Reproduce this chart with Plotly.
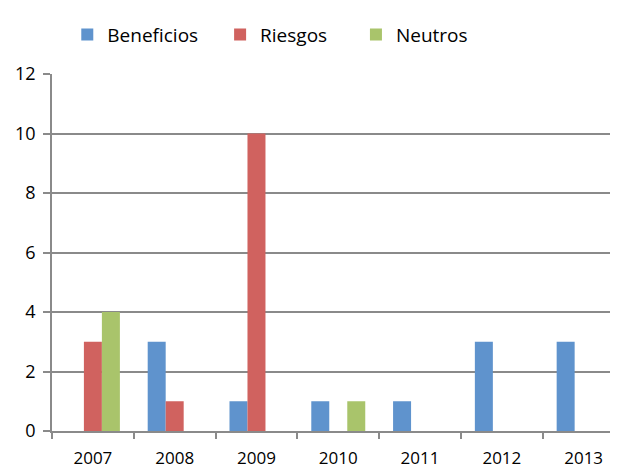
import plotly.graph_objects as go

years = ["2007", "2008", "2009", "2010", "2011", "2012", "2013"]
beneficios = [0, 3, 1, 1, 1, 3, 3]
riesgos = [3, 1, 10, 0, 0, 0, 0]
neutros = [4, 0, 0, 1, 0, 0, 0]

GRID = "#8a8a8a"
FONT = "Open Sans, Liberation Sans, sans-serif"

series = [
    ("Beneficios", beneficios, "#5f93cd", "legend", 0.027),
    ("Riesgos", riesgos, "#d0625f", "legend2", 0.297),
    ("Neutros", neutros, "#a9c46b", "legend3", 0.537),
]

fig = go.Figure()
legends = {}
for name, vals, color, leg, lx in series:
    fig.add_trace(
        go.Bar(
            x=years,
            y=vals,
            name=name,
            legend=leg,
            showlegend=True,
            marker=dict(color=color, line=dict(width=0)),
        )
    )
    legends[leg] = dict(
        orientation="h",
        x=lx,
        xanchor="left",
        y=1.11,
        yanchor="middle",
        font=dict(size=19),
        itemclick=False,
        bgcolor="rgba(0,0,0,0)",
    )

# the page adds an 8px body margin, so margins are trimmed to keep the
# plot area where the reference has it
fig.update_layout(
    width=618,
    height=468,
    showlegend=True,
    barmode="group",
    bargap=0.34,
    bargroupgap=0,
    plot_bgcolor="white",
    paper_bgcolor="white",
    font=dict(family=FONT, size=17, color="#000000"),
    margin=dict(l=44, r=8, t=56, b=45),
    xaxis=dict(
        type="category",
        range=[-0.5, 6.42],
        showline=True,
        linecolor=GRID,
        linewidth=1.5,
        ticks="outside",
        tickson="boundaries",
        ticklen=6,
        tickcolor=GRID,
        tickwidth=1.5,
        showgrid=False,
        tickfont=dict(size=17),
        ticklabelstandoff=11,
    ),
    yaxis=dict(
        range=[0, 12],
        dtick=2,
        showline=True,
        linecolor=GRID,
        linewidth=1.5,
        showgrid=True,
        gridcolor=GRID,
        gridwidth=1.5,
        zeroline=False,
        ticks="outside",
        ticklen=7,
        tickcolor=GRID,
        tickwidth=1.5,
        tickfont=dict(size=18),
        ticklabelstandoff=4,
    ),
    **legends,
)

fig.write_html("out.html")
